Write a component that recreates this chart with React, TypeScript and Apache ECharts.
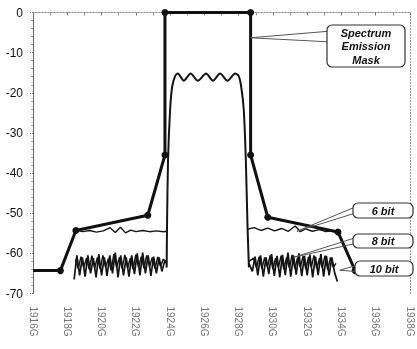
import React, { useEffect, useRef } from "react";
import * as echarts from "echarts";

// Axis ranges (GHz, dB)
const xMin = 1916;
const xMax = 1938;
const xStep = 2;
const yMin = -70;
const yMax = 0;
const yStep = 10;

// Spectrum emission mask
const maskX = [1916, 1917.6, 1918.5, 1922.7, 1923.7, 1923.7, 1928.7, 1928.7, 1929.7, 1933.8, 1934.8, 1936.4];
const maskY = [-64.3, -64.3, -54.3, -50.5, -35.5, 0, 0, -35.5, -51, -54.7, -64.3, -64.3];

// In-band signal (shared by all resolutions)
const bandX = [1923.8, 1923.82, 1923.88, 1924.0, 1924.12, 1924.3, 1924.45, 1924.8, 1925.2, 1925.62, 1926.1, 1926.5, 1926.92, 1927.35, 1927.8, 1928.0, 1928.15, 1928.3, 1928.42, 1928.52, 1928.6];
const bandY = [-63.5, -53.5, -36.8, -24.3, -18.5, -15.8, -15.2, -17, -15.2, -17, -15.2, -17, -15.2, -17, -15.2, -15.8, -18.5, -24.3, -36.8, -53.5, -63.5];

// 6 bit out-of-band floor
const bit6LeftX = [1918.5, 1918.9, 1919.3, 1919.7, 1920.1, 1920.5, 1920.8, 1921.1, 1921.4, 1921.7, 1922.0, 1922.4, 1922.8, 1923.2, 1923.6, 1923.8];
const bit6LeftY = [-54.2, -54.6, -54.3, -54.7, -54.4, -53.6, -54.8, -53.5, -54.9, -54.2, -54.6, -54.3, -54.6, -54.4, -54.6, -54.5];
const bit6RightX = [1928.5, 1928.9, 1929.3, 1929.7, 1930.1, 1930.5, 1930.9, 1931.3, 1931.6, 1931.9, 1932.3, 1932.7, 1933.1, 1933.5];
const bit6RightY = [-54.0, -53.6, -54.3, -53.7, -54.4, -53.8, -54.5, -53.2, -54.6, -53.9, -54.5, -54.1, -54.6, -54.3];

// 8 bit out-of-band floor
const bit8LeftX = [1918.48, 1918.64, 1918.8, 1918.96, 1919.12, 1919.28, 1919.44, 1919.6, 1919.76, 1919.92, 1920.08, 1920.24, 1920.4, 1920.56, 1920.72, 1920.88, 1921.04, 1921.2, 1921.36, 1921.52, 1921.68, 1921.84, 1922.0, 1922.16, 1922.32, 1922.48, 1922.64, 1922.8, 1922.96, 1923.12, 1923.28, 1923.44, 1923.6, 1923.8];
const bit8LeftY = [-61.5, -63.8, -60.8, -63.5, -61.2, -64, -60.6, -63.6, -61, -63.9, -60.5, -63.4, -61.3, -64.2, -60.2, -63.5, -61, -63.8, -60.4, -63.6, -61.2, -64, -60.3, -63.5, -60.8, -63.7, -60.5, -63.3, -61, -63.8, -60.9, -63.2, -61.5, -62];
const bit8RightX = [1928.6, 1928.88, 1929.04, 1929.2, 1929.36, 1929.52, 1929.68, 1929.84, 1930.0, 1930.16, 1930.32, 1930.48, 1930.64, 1930.8, 1930.96, 1931.12, 1931.28, 1931.44, 1931.6, 1931.76, 1931.92, 1932.08, 1932.24, 1932.4, 1932.56, 1932.72, 1932.88, 1933.04, 1933.2, 1933.36, 1933.52, 1933.68];
const bit8RightY = [-62, -61.2, -63.6, -60.8, -63.8, -61, -63.4, -60.5, -63.9, -61.2, -63.5, -60.6, -64, -61, -63.6, -60.4, -63.8, -61.1, -63.5, -60.7, -63.9, -60.9, -63.4, -60.5, -63.8, -61.2, -63.6, -60.6, -64.1, -61, -63.5, -62.5];

// 10 bit out-of-band floor
const bit10LeftX = [1918.4, 1918.56, 1918.72, 1918.88, 1919.04, 1919.2, 1919.36, 1919.52, 1919.68, 1919.84, 1920.0, 1920.16, 1920.32, 1920.48, 1920.64, 1920.8, 1920.96, 1921.12, 1921.28, 1921.44, 1921.6, 1921.76, 1921.92, 1922.08, 1922.24, 1922.4, 1922.56, 1922.72, 1922.88, 1923.04, 1923.2, 1923.36, 1923.52, 1923.68, 1923.8];
const bit10LeftY = [-66.5, -60.5, -65.5, -61, -65.8, -60.5, -65, -61.2, -66, -60.2, -65.5, -61, -65.6, -60.5, -65, -59.8, -66, -60.5, -65.5, -61, -65.8, -60.5, -65.2, -60, -65.5, -59.8, -65, -60.5, -65.6, -60.8, -65, -61, -64.5, -62, -62.5];
const bit10RightX = [1928.6, 1928.8, 1928.96, 1929.12, 1929.28, 1929.44, 1929.6, 1929.76, 1929.92, 1930.08, 1930.24, 1930.4, 1930.56, 1930.72, 1930.88, 1931.04, 1931.2, 1931.36, 1931.52, 1931.68, 1931.84, 1932.0, 1932.16, 1932.32, 1932.48, 1932.64, 1932.8, 1932.96, 1933.12, 1933.28, 1933.44, 1933.6, 1933.76];
const bit10RightY = [-62.5, -64.5, -60.8, -65.5, -60.5, -65.8, -61, -65.2, -60.2, -65.6, -60.6, -66, -60.4, -65.4, -59.8, -65.8, -60.5, -65.3, -60, -65.7, -60.6, -65.5, -60.3, -66, -60.8, -65.4, -60.2, -65.8, -60.6, -65.5, -61, -64.8, -67];

// Callouts: label lines and the data point each one points at
const callouts = [
  { lines: ["Spectrum", "Emission", "Mask"], anchor: [1928.7, -6.3] },
  { lines: ["6 bit"], anchor: [1931.4, -54.5] },
  { lines: ["8 bit"], anchor: [1931.2, -61] },
  { lines: ["10 bit"], anchor: [1933.9, -64.2] },
];

const zip = (xs: number[], ys: number[]) => xs.map((x, i) => [x, ys[i]]);

const App: React.FC = () => {
  const ref = useRef<HTMLDivElement>(null);

  useEffect(() => {
    if (!ref.current) return;
    const chart = echarts.init(ref.current, undefined, { renderer: "svg" });
    const noiseLine = (name: string, data: number[][], width: number) => ({
      name,
      type: "line",
      data,
      symbol: "none",
      lineStyle: { color: "#141414", width },
      z: 3,
    });
    const maskData = zip(maskX, maskY);
    const dotted = { color: "#8a8a8a", width: 1, type: [1, 2] as any };
    chart.setOption({
      animation: false,
      grid: { left: 33, right: 7, top: 12.5, bottom: 55.5, containLabel: false, outerBoundsMode: "none" },
      xAxis: [
        {
          type: "value",
          min: xMin,
          max: xMax,
          interval: xStep,
          axisLine: { show: true, lineStyle: dotted },
          axisTick: { show: true, length: 3, lineStyle: { color: "#777" } },
          minorTick: { show: true, splitNumber: 2, length: 3, lineStyle: { color: "#999" } },
          splitLine: { show: false },
          axisLabel: {
            rotate: -90,
            margin: 13,
            fontSize: 10,
            color: "#777",
            fontFamily: "Liberation Sans",
            formatter: (v: number) => `${v}G`,
          },
        },
        {
          type: "value",
          position: "top",
          min: xMin,
          max: xMax,
          axisLine: { show: true, lineStyle: dotted },
          axisTick: { show: false },
          axisLabel: { show: false },
          splitLine: { show: false },
        },
      ],
      yAxis: [
        {
          type: "value",
          min: yMin,
          max: yMax,
          interval: yStep,
          axisLine: { show: true, lineStyle: { color: "#555", width: 1, type: [1, 1] as any } },
          axisTick: { show: true, length: 4, lineStyle: { color: "#777", type: [1, 1] as any } },
          minorTick: { show: true, splitNumber: 5, length: 2, lineStyle: { color: "#999" } },
          splitLine: { show: false },
          axisLabel: { margin: 10, fontSize: 12, color: "#111", fontFamily: "Liberation Sans" },
        },
        {
          type: "value",
          position: "right",
          min: yMin,
          max: yMax,
          axisLine: { show: true, lineStyle: dotted },
          axisTick: { show: false },
          axisLabel: { show: false },
          splitLine: { show: false },
        },
      ],
      series: [
        noiseLine("10 bit L", zip(bit10LeftX, bit10LeftY), 1.7),
        noiseLine("10 bit R", zip(bit10RightX, bit10RightY), 1.7),
        noiseLine("8 bit L", zip(bit8LeftX, bit8LeftY), 1.5),
        noiseLine("8 bit R", zip(bit8RightX, bit8RightY), 1.5),
        noiseLine("6 bit L", zip(bit6LeftX, bit6LeftY), 1.4),
        noiseLine("6 bit R", zip(bit6RightX, bit6RightY), 1.4),
        {
          name: "Signal",
          type: "line",
          data: zip(bandX, bandY),
          symbol: "none",
          smooth: 0.25,
          lineStyle: { color: "#141414", width: 2 },
          z: 3,
        },
        {
          name: "Spectrum Emission Mask",
          type: "line",
          data: maskData,
          symbol: (_v: any, p: any) => (p.dataIndex === 0 || p.dataIndex === maskData.length - 1 ? "none" : "circle"),
          symbolSize: 7,
          itemStyle: { color: "#111" },
          lineStyle: { color: "#111", width: 3 },
          z: 4,
        },
      ],
    });

    const boxes = [
      { x: 327, y: 25, w: 78, h: 42, t1: 0.15, t2: 0.4 },
      { x: 353, y: 203, w: 60, h: 15, t1: 0.3, t2: 0.7 },
      { x: 353, y: 234, w: 60, h: 14, t1: 0.3, t2: 0.7 },
      { x: 355, y: 261, w: 58, h: 15, t1: 0.3, t2: 0.7 },
    ];
    const elements: any[] = [];
    callouts.forEach((c, i) => {
      const b = boxes[i];
      const a = chart.convertToPixel({ gridIndex: 0 }, c.anchor) as number[];
      elements.push({
        type: "polyline",
        z: 100,
        shape: { points: [[b.x + 1, b.y + b.h * b.t1], a, [b.x + 1, b.y + b.h * b.t2]] },
        style: { stroke: "#555", lineWidth: 1, fill: null },
      });
      elements.push({
        type: "rect",
        z: 101,
        shape: { x: b.x, y: b.y, width: b.w, height: b.h, r: 5 },
        style: { fill: "#fff", stroke: "#333", lineWidth: 1.2 },
      });
      elements.push({
        type: "text",
        z: 102,
        style: {
          text: c.lines.join("\n"),
          x: b.x + b.w / 2,
          y: b.y + b.h / 2,
          align: "center",
          verticalAlign: "middle",
          fontSize: 11,
          fontStyle: "italic",
          fontWeight: "bold",
          fontFamily: "Liberation Sans",
          lineHeight: 13.5,
          fill: "#111",
        },
      });
    });
    chart.setOption({ graphic: elements });

    return () => chart.dispose();
  }, []);

  return <div ref={ref} style={{ position: "fixed", left: 0, top: 0, width: 417, height: 349 }} />;
};

export default App;
